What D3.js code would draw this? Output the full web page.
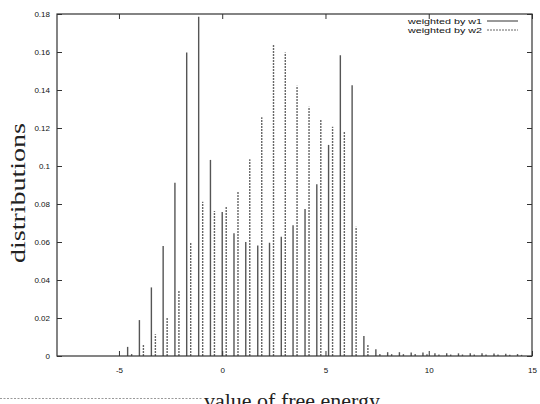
<!DOCTYPE html>
<html>
<head>
<meta charset="utf-8">
<script src="https://cdn.jsdelivr.net/npm/d3@7"></script>
<style>
  html, body { margin: 0; padding: 0; background: #fff; }
  svg { display: block; }
</style>
</head>
<body>
<svg id="chart" width="540" height="404"></svg>
<script>
// ---- data ----
const binCenters = [-4.58, -4.01, -3.43, -2.86, -2.29, -1.72, -1.14, -0.57, 0.00, 0.57,
  1.14, 1.72, 2.29, 2.86, 3.43, 4.01, 4.58, 5.15, 5.72, 6.29,
  6.86, 7.44, 8.01, 8.58, 9.15, 9.72, 10.30, 10.87, 11.44, 12.01,
  12.58, 13.16, 13.73, 14.30];
const weightedW1 = [0.0048, 0.0189, 0.0361, 0.0579, 0.0912, 0.1598, 0.1786, 0.1032, 0.0758, 0.0646,
  0.0600, 0.0582, 0.0596, 0.0628, 0.0688, 0.0774, 0.0904, 0.1111, 0.1583, 0.1425,
  0.0105, 0.0035, 0.0020, 0.0020, 0.0018, 0.0018, 0.0014, 0.0014, 0.0014, 0.0014,
  0.0014, 0.0013, 0.0012, 0.0010];
const weightedW2 = [0.0014, 0.0063, 0.0114, 0.0204, 0.0344, 0.0596, 0.0812, 0.0763, 0.0789, 0.0867,
  0.1035, 0.1256, 0.1640, 0.1598, 0.1423, 0.1312, 0.1242, 0.1207, 0.1180, 0.0680,
  0.0063, 0.0015, 0.0010, 0.0010, 0.0010, 0.0009, 0.0008, 0.0008, 0.0008, 0.0008,
  0.0008, 0.0008, 0.0007, 0.0006];
const xTickValues = [-5, 0, 5, 10, 15];
const xTickLabels = ["-5", "0", "5", "10", "15"];
const yTickValues = [0, 0.02, 0.04, 0.06, 0.08, 0.1, 0.12, 0.14, 0.16, 0.18];
const yTickLabels = ["0", "0.02", "0.04", "0.06", "0.08", "0.1", "0.12", "0.14", "0.16", "0.18"];
const xDomain = [-8, 15];
const yDomain = [0, 0.18];
const seriesNames = ["weighted by w1", "weighted by w2"];
const xTitle = "value of free energy";
const yTitle = "distributions";

// ---- layout ----
const L = 57, R = 532, T = 14, B = 356;
const svg = d3.select("#chart");
const x = d3.scaleLinear().domain(xDomain).range([L, R]);
const y = d3.scaleLinear().domain(yDomain).range([B, T]);
const frameColor = "#333";
const tickFont = "'Liberation Sans', Arial, sans-serif";
const titleFont = "'Liberation Serif', 'Times New Roman', serif";

// bars
const w1 = binCenters.map((c, i) => ({ x: c, v: weightedW1[i] }));
const w2 = binCenters.map((c, i) => ({ x: c, v: weightedW2[i] }));

svg.append("g").selectAll("line").data(w1).join("line")
  .attr("x1", d => x(d.x)).attr("x2", d => x(d.x))
  .attr("y1", y(0)).attr("y2", d => y(d.v))
  .attr("stroke", "#555").attr("stroke-width", 1.4);

svg.append("g").selectAll("line").data(w2).join("line")
  .attr("x1", d => x(d.x) + 4).attr("x2", d => x(d.x) + 4)
  .attr("y1", y(0)).attr("y2", d => y(d.v))
  .attr("stroke", "#666").attr("stroke-width", 1.4)
  .attr("stroke-dasharray", "2,1");

// axes: bottom & left with labels, inward ticks
const tickLen = 5;
const gx = svg.append("g").attr("transform", `translate(0,${B})`)
  .call(d3.axisBottom(x).tickValues(xTickValues).tickFormat((d, i) => xTickLabels[i])
    .tickSizeInner(-tickLen).tickSizeOuter(0).tickPadding(11));
const gxTop = svg.append("g").attr("transform", `translate(0,${T})`)
  .call(d3.axisTop(x).tickValues(xTickValues).tickFormat("").tickSizeInner(-tickLen).tickSizeOuter(0));
const gy = svg.append("g").attr("transform", `translate(${L},0)`)
  .call(d3.axisLeft(y).tickValues(yTickValues).tickFormat((d, i) => yTickLabels[i])
    .tickSizeInner(-tickLen).tickSizeOuter(0).tickPadding(7));
const gyRight = svg.append("g").attr("transform", `translate(${R},0)`)
  .call(d3.axisRight(y).tickValues(yTickValues).tickFormat("").tickSizeInner(-tickLen).tickSizeOuter(0));

[gx, gxTop, gy, gyRight].forEach(g => {
  g.select(".domain").remove();
  g.selectAll(".tick line").attr("stroke", frameColor).attr("stroke-width", 1);
  g.selectAll("text").attr("font-family", tickFont).attr("font-size", 8).attr("fill", "#111");
});

// frame
svg.append("rect").attr("x", L).attr("y", T).attr("width", R - L).attr("height", B - T)
  .attr("fill", "none").attr("stroke", frameColor).attr("stroke-width", 1.2);

// legend
const legend = svg.append("g");
seriesNames.forEach((name, i) => {
  const by = 24 + i * 9;
  legend.append("text").attr("x", 482).attr("y", by)
    .attr("text-anchor", "end").attr("font-family", tickFont).attr("font-size", 8)
    .attr("textLength", 74).attr("lengthAdjust", "spacingAndGlyphs")
    .attr("fill", "#111").text(name);
  legend.append("line").attr("x1", 487).attr("x2", 518).attr("y1", by - 3).attr("y2", by - 3)
    .attr("stroke", i === 0 ? "#333" : "#666").attr("stroke-width", 1)
    .attr("stroke-dasharray", i === 0 ? null : "2,1");
});

// titles
svg.append("text").attr("transform", `translate(25,193) rotate(-90)`)
  .attr("text-anchor", "middle").attr("font-family", titleFont).attr("font-size", 20)
  .attr("textLength", 140).attr("lengthAdjust", "spacingAndGlyphs")
  .attr("fill", "#222").text(yTitle);

svg.append("text").attr("x", 292).attr("y", 408)
  .attr("text-anchor", "middle").attr("font-family", titleFont).attr("font-size", 20)
  .attr("textLength", 176).attr("lengthAdjust", "spacingAndGlyphs")
  .attr("fill", "#222").text(xTitle);

// dotted rule left of x title
svg.append("line").attr("x1", 0).attr("x2", 203).attr("y1", 398.5).attr("y2", 398.5)
  .attr("stroke", "#999").attr("stroke-width", 1).attr("stroke-dasharray", "2,1.5");
</script>
</body>
</html>
